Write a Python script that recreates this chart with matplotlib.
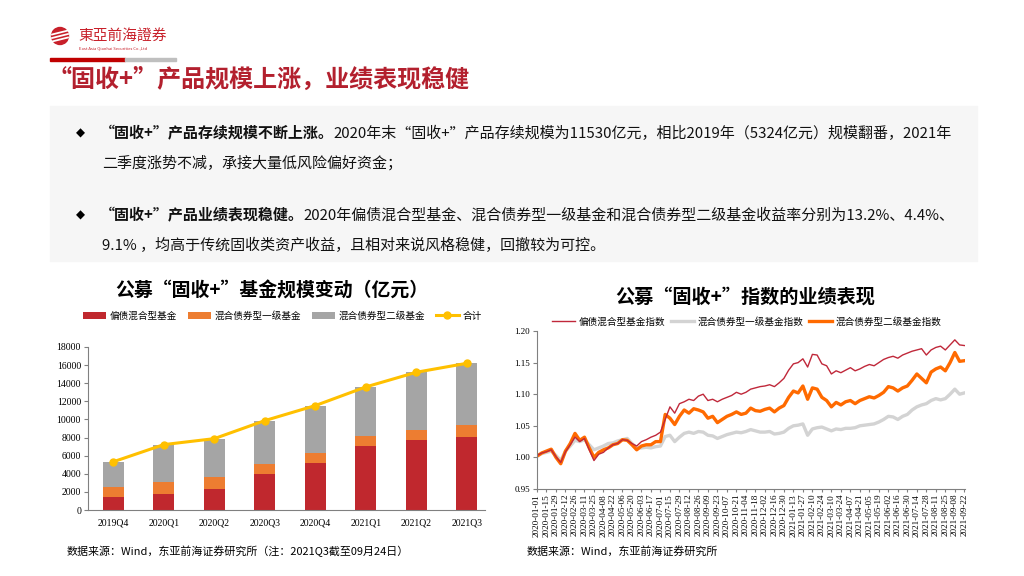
import numpy as np
import pandas as pd
import matplotlib
matplotlib.use("Agg")
import matplotlib.pyplot as plt
import matplotlib.dates as mdates
from matplotlib.patches import Rectangle, Ellipse
from matplotlib.lines import Line2D

plt.rcParams['font.family'] = ['Noto Sans CJK SC', 'DejaVu Sans']

# ---- left chart data (亿元) ----
quarters = ['2019Q4', '2020Q1', '2020Q2', '2020Q3', '2020Q4', '2021Q1', '2021Q2', '2021Q3']
mixed_bond = [1430, 1800, 2360, 3940, 5190, 7040, 7700, 8060]
bond_lvl1 = [1070, 1330, 1290, 1140, 1110, 1100, 1140, 1290]
bond_lvl2 = [2824, 4090, 4230, 4790, 5230, 5450, 6370, 6850]
total = [5324, 7220, 7880, 9870, 11530, 13590, 15210, 16200]

# ---- right chart data (weekly readings) ----
dates = pd.date_range('2020-01-01', '2021-09-22', freq='7D')
idx_mixed = [1.003, 1.007, 1.009, 1.012, 1.001, 0.992, 1.009, 1.020, 1.032, 1.025,
             1.030, 1.012, 0.995, 1.005, 1.008, 1.015, 1.020, 1.022, 1.028, 1.027,
             1.022, 1.018, 1.025, 1.028, 1.032, 1.035, 1.040, 1.060, 1.080, 1.070,
             1.085, 1.088, 1.092, 1.090, 1.097, 1.100, 1.090, 1.092, 1.088, 1.092,
             1.095, 1.098, 1.103, 1.100, 1.103, 1.108, 1.110, 1.112, 1.113, 1.115,
             1.112, 1.118, 1.125, 1.138, 1.148, 1.150, 1.156, 1.143, 1.163, 1.162,
             1.148, 1.145, 1.132, 1.137, 1.134, 1.138, 1.142, 1.137, 1.140, 1.144,
             1.147, 1.145, 1.150, 1.155, 1.158, 1.160, 1.157, 1.162, 1.165, 1.168,
             1.170, 1.172, 1.162, 1.170, 1.174, 1.176, 1.170, 1.178, 1.186, 1.178,
             1.177]
idx_lvl1 = [1.002, 1.006, 1.008, 1.010, 1.003, 0.995, 1.010, 1.018, 1.027, 1.025,
            1.028, 1.020, 1.012, 1.015, 1.018, 1.022, 1.023, 1.026, 1.028, 1.030,
            1.022, 1.015, 1.015, 1.016, 1.015, 1.017, 1.018, 1.033, 1.035, 1.025,
            1.032, 1.038, 1.040, 1.038, 1.041, 1.040, 1.035, 1.034, 1.030, 1.033,
            1.036, 1.038, 1.040, 1.039, 1.041, 1.044, 1.042, 1.040, 1.040, 1.041,
            1.037, 1.038, 1.040, 1.046, 1.050, 1.051, 1.053, 1.035, 1.045, 1.047,
            1.048, 1.045, 1.042, 1.045, 1.044, 1.046, 1.046, 1.047, 1.050, 1.051,
            1.052, 1.053, 1.056, 1.060, 1.065, 1.064, 1.060, 1.065, 1.068, 1.075,
            1.080, 1.083, 1.085, 1.090, 1.093, 1.091, 1.093, 1.100, 1.108, 1.100,
            1.102]
idx_lvl2 = [1.002, 1.007, 1.010, 1.013, 1.000, 0.990, 1.010, 1.022, 1.038, 1.027,
            1.032, 1.015, 1.000, 1.008, 1.012, 1.015, 1.020, 1.022, 1.028, 1.027,
            1.020, 1.012, 1.018, 1.020, 1.020, 1.025, 1.025, 1.068, 1.062, 1.052,
            1.065, 1.075, 1.070, 1.077, 1.075, 1.072, 1.062, 1.065, 1.055, 1.060,
            1.065, 1.068, 1.072, 1.068, 1.070, 1.078, 1.074, 1.073, 1.076, 1.078,
            1.072, 1.078, 1.082, 1.095, 1.105, 1.102, 1.113, 1.092, 1.110, 1.108,
            1.095, 1.090, 1.080, 1.087, 1.083, 1.088, 1.090, 1.085, 1.090, 1.093,
            1.096, 1.094, 1.098, 1.103, 1.112, 1.110, 1.105, 1.110, 1.113, 1.122,
            1.132, 1.125, 1.118, 1.135, 1.140, 1.143, 1.137, 1.150, 1.166, 1.152,
            1.153]

RED = '#C0282E'
ORANGE = '#ED7D31'
GRAY = '#A5A5A5'
YELLOW = '#FFC000'
TITLE_RED = '#B3202E'
SERIF = ['Liberation Serif', 'DejaVu Serif']

fig = plt.figure(figsize=(10.24, 5.76), dpi=100)
W, H = 1024, 576
renderer = fig.canvas.get_renderer()


def fx(px):
    return px / W


def fy(py):
    return 1 - py / H


# ---- header ----
fig.patches.append(Ellipse((fx(60), fy(36)), 17 / W, 17 / H, transform=fig.transFigure,
                           color='#C8202A', zorder=2))
for dy in (-3.5, 0, 3.5):
    fig.add_artist(Line2D([fx(52), fx(68)], [fy(36 + dy + 2), fy(36 + dy - 2)],
                          color='white', lw=1.3, transform=fig.transFigure, zorder=3))
fig.text(fx(78), fy(36), '東亞前海證券', color='#C8202A', fontsize=10.6,
         va='center', ha='left')
fig.text(fx(79), fy(48), 'East Asia Qianhai Securities Co.,Ltd', color='#C8202A',
         fontsize=3, va='center', ha='left')
fig.patches.append(Rectangle((fx(50), fy(61)), fx(75), 3 / H, transform=fig.transFigure,
                             color='#C00000'))
fig.patches.append(Rectangle((fx(125), fy(61)), fx(51), 3 / H, transform=fig.transFigure,
                             color='#BFBFBF'))
fig.text(fx(48), fy(80), '“固收+”产品规模上涨，业绩表现稳健', color=TITLE_RED,
         fontsize=17.3, fontweight='bold', va='center', ha='left')

# ---- text box ----
fig.patches.append(Rectangle((fx(50), fy(261)), fx(927), (261 - 106) / H,
                             transform=fig.transFigure, color='#F6F6F6', zorder=0))

FS = 10.8
TXT = '#111111'


def bullet_line(ypx, bold, normal):
    fig.text(fx(80), fy(ypx), '◆', fontsize=8.5, va='center', ha='center',
             family=['DejaVu Sans'])
    t = fig.text(fx(100), fy(ypx), bold, fontsize=FS, fontweight='bold',
                 va='center', ha='left', color=TXT)
    bb = t.get_window_extent(renderer=renderer)
    fig.text(bb.x1 / W, fy(ypx), normal, fontsize=FS, va='center', ha='left', color=TXT)


bullet_line(133, '“固收+”产品存续规模不断上涨。',
            '2020年末“固收+”产品存续规模为11530亿元，相比2019年（5324亿元）规模翻番，2021年')
fig.text(fx(102), fy(163), '二季度涨势不减，承接大量低风险偏好资金；', fontsize=FS,
         va='center', ha='left', color=TXT)
bullet_line(215, '“固收+”产品业绩表现稳健。',
            '2020年偏债混合型基金、混合债券型一级基金和混合债券型二级基金收益率分别为13.2%、4.4%、')
fig.text(fx(102), fy(245), '9.1% ，均高于传统固收类资产收益，且相对来说风格稳健，回撤较为可控。',
         fontsize=FS, va='center', ha='left', color=TXT)

# ---- left chart ----
ax1 = fig.add_axes([fx(88), fy(510), fx(485 - 88), (510 - 347) / H])
x = np.arange(len(quarters))
bw = 0.42
b1 = ax1.bar(x, mixed_bond, bw, color=RED, label='偏债混合型基金')
b2 = ax1.bar(x, bond_lvl1, bw, bottom=mixed_bond, color=ORANGE, label='混合债券型一级基金')
bottom2 = np.array(mixed_bond) + np.array(bond_lvl1)
b3 = ax1.bar(x, bond_lvl2, bw, bottom=bottom2, color=GRAY, label='混合债券型二级基金')
l1, = ax1.plot(x, total, color=YELLOW, lw=2.2, marker='o', ms=5, label='合计')
ax1.set_ylim(0, 18000)
ax1.set_yticks(np.arange(0, 18001, 2000))
ax1.set_xlim(-0.5, len(quarters) - 0.64)
ax1.set_xticks(x)
ax1.set_xticklabels(quarters)
for s in ('top', 'right'):
    ax1.spines[s].set_visible(False)
ax1.spines['left'].set_color('#808080')
ax1.spines['bottom'].set_color('#808080')
ax1.tick_params(axis='x', length=0, pad=6)
ax1.tick_params(axis='y', length=3, color='#808080', pad=2)
for lab in ax1.get_xticklabels() + ax1.get_yticklabels():
    lab.set_family(SERIF)
    lab.set_fontsize(7)
ax1.legend(handles=[b1, b2, b3, l1], loc='center', bbox_to_anchor=(0.49, 1.19),
           ncol=4, frameon=False, fontsize=6.9, handlelength=2.4, handleheight=0.8,
           columnspacing=1.1, handletextpad=0.4)
fig.text(fx(272), fy(291), '公募“固收+”基金规模变动（亿元）', fontsize=13.6,
         fontweight='bold', ha='center', va='center')

# ---- right chart ----
ax2 = fig.add_axes([fx(537), fy(489), fx(965 - 537), (489 - 331) / H])
ax2.plot(dates, idx_lvl1, color='#D3D3D3', lw=2.4, label='混合债券型一级基金指数')
ax2.plot(dates, idx_lvl2, color='#FF6A00', lw=2.4, label='混合债券型二级基金指数')
ax2.plot(dates, idx_mixed, color='#C0283A', lw=1.0, label='偏债混合型基金指数')
ax2.set_ylim(0.95, 1.20)
ax2.set_yticks(np.arange(0.95, 1.2001, 0.05))
ax2.yaxis.set_major_formatter(matplotlib.ticker.FormatStrFormatter('%.2f'))
ax2.set_xlim(pd.Timestamp('2020-01-01'), pd.Timestamp('2021-09-23'))
ax2.set_xticks(pd.date_range('2020-01-01', '2021-09-22', freq='14D'))
ax2.xaxis.set_major_formatter(mdates.DateFormatter('%Y-%m-%d'))
for s in ('top', 'right'):
    ax2.spines[s].set_visible(False)
ax2.spines['left'].set_color('#808080')
ax2.spines['bottom'].set_color('#808080')
ax2.tick_params(axis='x', length=2, color='#808080', pad=1.5)
ax2.tick_params(axis='y', length=3, color='#808080', pad=2)
for lab in ax2.get_xticklabels():
    lab.set_family(SERIF)
    lab.set_fontsize(6.6)
    lab.set_rotation(90)
for lab in ax2.get_yticklabels():
    lab.set_family(SERIF)
    lab.set_fontsize(6.5)
h = ax2.get_legend_handles_labels()[0]
ax2.legend(handles=[h[2], h[0], h[1]], loc='center', bbox_to_anchor=(0.49, 1.06),
           ncol=3, frameon=False, fontsize=6.9, handlelength=2.4,
           columnspacing=0.6, handletextpad=0.4)
fig.text(fx(745), fy(297), '公募“固收+”指数的业绩表现', fontsize=13.8,
         fontweight='bold', ha='center', va='center')

# ---- sources ----
fig.text(fx(67), fy(551), '数据来源：Wind，东亚前海证券研究所（注：2021Q3截至09月24日）',
         fontsize=7.9, ha='left', va='center')
fig.text(fx(527), fy(551), '数据来源：Wind，东亚前海证券研究所', fontsize=7.9,
         ha='left', va='center')

fig.savefig('out.png', dpi=100)
